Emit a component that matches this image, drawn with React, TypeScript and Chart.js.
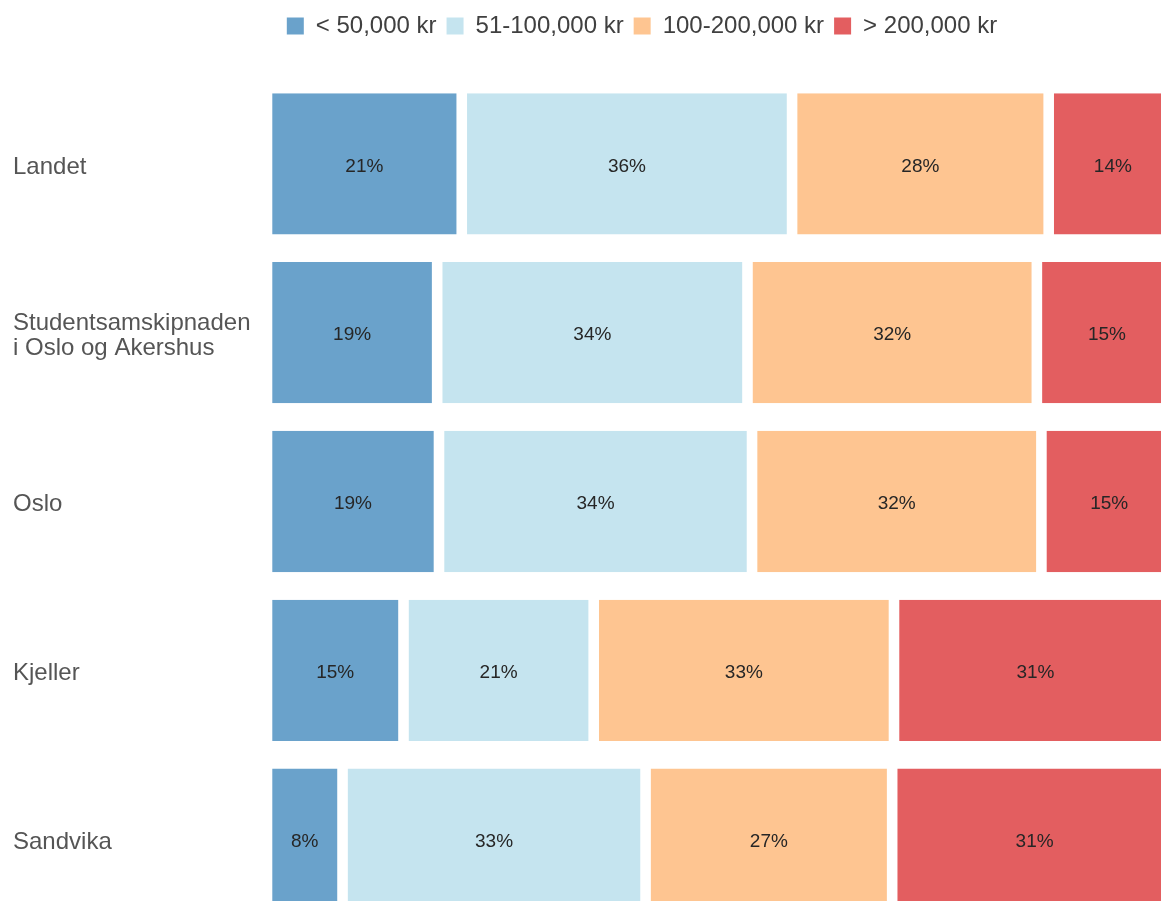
import React, { useEffect, useRef } from 'react';
import { Chart, registerables } from 'chart.js';

Chart.register(...registerables);

const categories: (string | string[])[] = [
  'Landet',
  ['Studentsamskipnaden', 'i Oslo og Akershus'],
  'Oslo',
  'Kjeller',
  'Sandvika',
];
const seriesLabels = ['< 50,000 kr', '51-100,000 kr', '100-200,000 kr', '> 200,000 kr'];
const under50 = [21.4, 18.7, 18.9, 15.0, 8.3];
const from51to100 = [36.3, 34.1, 34.4, 20.9, 33.3];
const from100to200 = [28.2, 31.8, 31.8, 33.0, 27.1];
const over200 = [14.1, 15.4, 14.9, 31.1, 31.3];
const seriesColors = ['#6aa2cb', '#c5e4ef', '#fec591', '#e35e60'];

const FONT = '"Liberation Sans", Arial, sans-serif';

const barLabels = {
  id: 'barLabels',
  afterDatasetsDraw(chart: any) {
    const ctx = chart.ctx;
    ctx.save();
    ctx.font = `19px ${FONT}`;
    ctx.fillStyle = '#262626';
    ctx.textAlign = 'center';
    ctx.textBaseline = 'middle';
    chart.data.datasets.forEach((ds: any, di: number) => {
      const meta = chart.getDatasetMeta(di);
      meta.data.forEach((bar: any, i: number) => {
        const { x, y, base } = bar.getProps(['x', 'y', 'base'], true);
        ctx.fillText(Math.round(ds.data[i]) + '%', (x + base) / 2, y + 2.5);
      });
    });
    ctx.restore();
  },
};

export default function App() {
  const ref = useRef<HTMLCanvasElement | null>(null);

  useEffect(() => {
    if (!ref.current) return;
    const series = [under50, from51to100, from100to200, over200];
    const chart = new Chart(ref.current, {
      type: 'bar',
      data: {
        labels: categories as any,
        datasets: series.map((d, i) => ({
          label: seriesLabels[i],
          data: d,
          backgroundColor: seriesColors[i],
          borderColor: '#ffffff',
          borderWidth: { left: 5.3, right: 5.3, top: 0, bottom: 0 },
          borderSkipped: false,
          barPercentage: 1,
          categoryPercentage: 0.837,
        })),
      },
      options: {
        indexAxis: 'y',
        responsive: false,
        animation: false,
        layout: { padding: { left: 13, top: 4, right: 0, bottom: 0 } },
        plugins: {
          tooltip: { enabled: false },
          legend: {
            position: 'top',
            labels: {
              boxWidth: 17,
              boxHeight: 17,
              padding: 10,
              color: '#404040',
              font: { size: 24, family: FONT },
              generateLabels: (c: any) =>
                c.data.datasets.map((ds: any, i: number) => ({
                  text: ds.label,
                  fillStyle: ds.backgroundColor,
                  strokeStyle: ds.backgroundColor,
                  lineWidth: 0,
                  hidden: false,
                  datasetIndex: i,
                  fontColor: '#404040',
                })),
            },
          },
        },
        scales: {
          x: {
            stacked: true,
            position: 'top',
            min: 0,
            max: 110.33,
            grid: { display: false },
            border: { display: false },
            ticks: { display: false },
            afterFit: (s: any) => {
              s.height = 31.6;
            },
          },
          y: {
            stacked: true,
            grid: { display: false },
            border: { display: false },
            ticks: {
              crossAlign: 'far',
              labelOffset: 3,
              color: '#555555',
              font: { size: 24, family: FONT, lineHeight: 1.05 },
            },
            afterFit: (s: any) => {
              s.width = 254;
            },
          },
        },
      } as any,
      plugins: [barLabels],
    });
    return () => chart.destroy();
  }, []);

  return (
    <div
      style={{
        position: 'fixed',
        left: 0,
        top: 0,
        width: '100vw',
        height: '100vh',
        overflow: 'hidden',
        background: '#ffffff',
      }}
    >
      <canvas ref={ref} width={1271} height={939} style={{ display: 'block' }} />
    </div>
  );
}
